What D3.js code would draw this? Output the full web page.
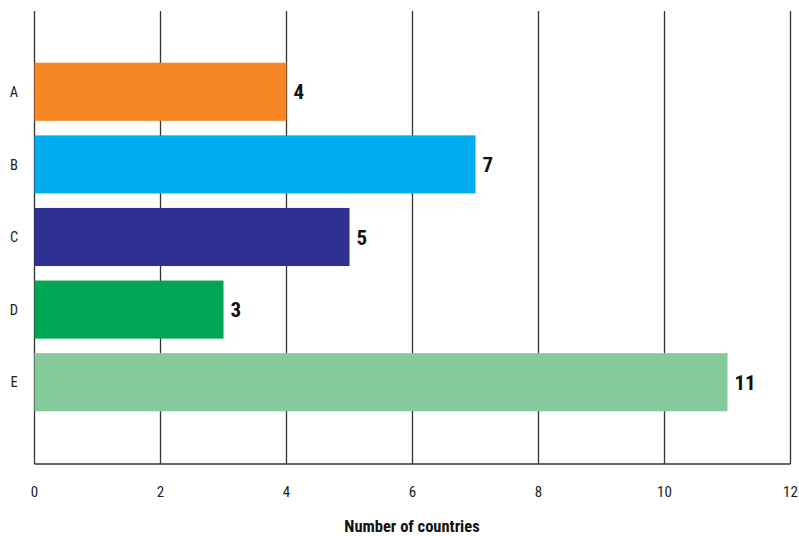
<!DOCTYPE html>
<html>
<head>
<meta charset="utf-8">
<script src="https://cdn.jsdelivr.net/npm/d3@7"></script>
<style>
  html, body { margin: 0; padding: 0; background: #fff; }
  svg text { font-family: "Liberation Sans Narrow", "Roboto Condensed", "Arial Narrow", sans-serif; }
</style>
</head>
<body>
<svg id="chart" width="799" height="536"></svg>
<script>
// Data
const categories = ["A", "B", "C", "D", "E"];
const values = [4, 7, 5, 3, 11];
const colors = ["#f58624", "#00adee", "#2e3192", "#00a651", "#84ca9b"];
const xTicks = [0, 2, 4, 6, 8, 10, 12];
const xTitle = "Number of countries";

const svg = d3.select("#chart");
const plotLeft = 34.5, plotRight = 790.5, plotTop = 11, plotBottom = 464;

const x = d3.scaleLinear().domain([0, 12]).range([plotLeft, plotRight]);
const y = d3.scaleBand().domain(categories).range([55.5, 418.5]).paddingInner(0.2).paddingOuter(0.1);

// Vertical gridlines
svg.append("g").selectAll("line").data(xTicks).join("line")
  .attr("x1", d => x(d)).attr("x2", d => x(d))
  .attr("y1", plotTop).attr("y2", plotBottom)
  .attr("stroke", "#333").attr("stroke-width", 1.3);

// Baseline
svg.append("line")
  .attr("x1", x(0)).attr("x2", x(12))
  .attr("y1", plotBottom).attr("y2", plotBottom)
  .attr("stroke", "#333").attr("stroke-width", 1.3);

// Bars
svg.append("g").selectAll("rect").data(values).join("rect")
  .attr("x", x(0))
  .attr("y", (d, i) => y(categories[i]))
  .attr("width", d => x(d) - x(0))
  .attr("height", y.bandwidth())
  .attr("fill", (d, i) => colors[i]);

// Value labels
svg.append("g").selectAll("text").data(values).join("text")
  .attr("x", d => x(d) + 7)
  .attr("y", (d, i) => y(categories[i]) + y.bandwidth() / 2)
  .attr("dy", "0.36em")
  .attr("font-size", 21).attr("font-weight", "bold").attr("fill", "#111")
  .text(d => d);

// Category labels
svg.append("g").selectAll("text").data(categories).join("text")
  .attr("x", 14)
  .attr("y", d => y(d) + y.bandwidth() / 2)
  .attr("dy", "0.36em")
  .attr("text-anchor", "middle")
  .attr("font-size", 14.5).attr("fill", "#222")
  .text(d => d);

// X tick labels
svg.append("g").selectAll("text").data(xTicks).join("text")
  .attr("x", d => x(d))
  .attr("y", 497)
  .attr("text-anchor", "middle")
  .attr("font-size", 15).attr("fill", "#222")
  .text(d => d);

// X axis title
svg.append("text")
  .attr("x", 412).attr("y", 532)
  .attr("text-anchor", "middle")
  .attr("font-size", 16.5).attr("font-weight", "bold").attr("fill", "#111")
  .text(xTitle);
</script>
</body>
</html>
